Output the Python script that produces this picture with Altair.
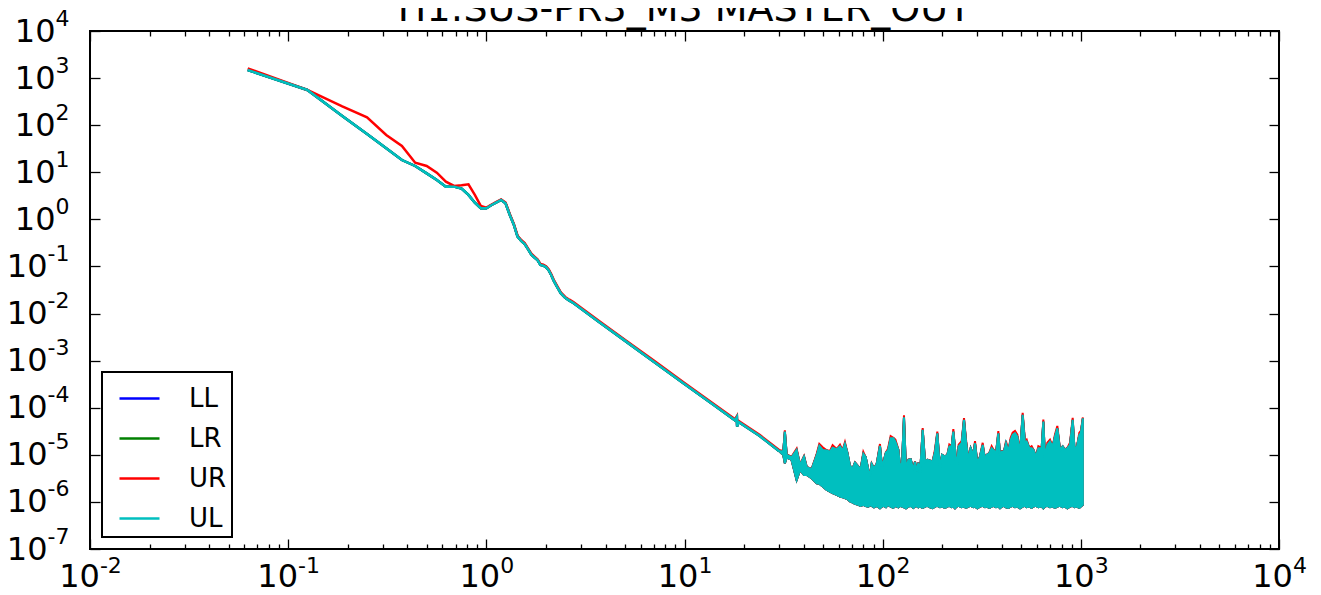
import altair as alt
import pandas as pd

TITLE = "H1:SUS-PR3_M3 MASTER_OUT"
series_names = ["LL", "LR", "UR", "UL"]
series_colors = ["#0000ff", "#008000", "#ff0000", "#00bfbf"]

# ---- smooth low-frequency part (Hz, magnitude) ----
freq_lf = [0.0625, 0.125, 0.1875, 0.25, 0.3125, 0.375, 0.4375, 0.5, 0.5625, 0.625,
           0.6875, 0.75, 0.8125, 0.875, 0.9375, 1.0, 1.0625, 1.125, 1.1875, 1.25,
           1.3125, 1.375, 1.4375, 1.5, 1.5625, 1.625, 1.6875, 1.75, 1.8125, 1.875,
           1.9375, 2.0, 2.0625, 2.125, 2.1875, 2.25, 2.375, 2.5, 2.625, 2.75,
           3.75, 5.0, 7.0, 10.0, 14.0, 18.0, 18.375, 18.4375, 18.75, 24.0,
           30.0]
ul_lf = [1486, 559, 157, 65.0, 32.3, 18.2, 13.6, 9.5, 6.86, 4.95,
         4.95, 4.49, 3.30, 2.26, 1.72, 1.72, 2.02, 2.30, 2.58, 2.20,
         1.25, 0.78, 0.43, 0.35, 0.30, 0.23, 0.178, 0.155, 0.136, 0.108,
         0.104, 0.097, 0.083, 0.066, 0.050, 0.040, 0.027, 0.0215, 0.0188, 0.0168,
         0.0064, 0.00266, 0.00095, 0.00032, 0.000116, 5.4e-5, 6.3e-5, 4.0e-5, 5.0e-5, 2.5e-5,
         1.2e-5]
ur_lf = [1612, 559, 251, 147, 61.9, 36.2, 16.0, 13.6, 9.82, 6.33,
         5.12, 5.29, 5.55, 3.30, 1.93, 1.77, 2.05, 2.35, 2.65, 2.28,
         1.30, 0.81, 0.45, 0.365, 0.315, 0.24, 0.186, 0.162, 0.142, 0.113,
         0.109, 0.101, 0.087, 0.069, 0.052, 0.042, 0.0283, 0.0225, 0.0197, 0.0176,
         0.0067, 0.00279, 0.001, 0.000336, 0.000122, 5.7e-5, 6.6e-5, 4.2e-5, 5.25e-5, 2.63e-5,
         1.26e-5]
# LL and LR lie exactly underneath UL in the reference
ll_lf = ul_lf
lr_lf = ul_lf

# ---- dense noisy high-frequency part: lower / upper envelope ----
band_freq = [30.0, 31.5, 32.1, 32.8, 34.7, 36.8, 38.3, 40.1, 41.4, 43.8,
             46.5, 47.9, 49.8, 52.2, 54.2, 55.9, 58.6, 60.9, 62.8, 64.5,
             66.3, 68.4, 70.6, 72.5, 75.4, 77.4, 79.9, 82.1, 84.7, 86.3,
             88.0, 90.4, 93.3, 96.9, 99.2, 101.6, 103.9, 106.4, 109.7, 113.2,
             115.9, 120.0, 122.3, 125.2, 128.1, 131.1, 134.8, 138.5, 142.8, 145.6,
             148.5, 151.4, 154.3, 159.2, 163.6, 168.1, 173.4, 178.8, 183.7, 188.7,
             194.7, 199.3, 206.3, 212.0, 217.0, 222.9, 227.3, 231.7, 236.3, 241.8,
             250.4, 257.3, 263.4, 270.6, 278.0, 286.8, 292.4, 300.5, 309.9, 319.7,
             328.5, 334.9, 345.4, 354.8, 361.8, 373.2, 383.4, 390.9, 400.1, 409.5,
             419.1, 430.6, 442.5, 452.9, 465.4, 478.2, 493.2, 508.7, 522.6, 532.9,
             549.6, 564.8, 575.9, 593.9, 610.3, 634.4, 646.8, 659.5, 677.6, 698.9,
             720.9, 740.7, 761.0, 785.0, 809.7, 832.0, 854.9, 881.9, 909.7, 927.5,
             952.8, 982.7, 1000.0, 1024.0]
ul_band_low = [1.2e-5, 9.95e-6, 6.62e-6, 8.87e-6, 7.79e-6, 2.93e-6, 4.78e-6, 3.74e-6, 3.74e-6, 3.18e-6,
               2.49e-6, 2.42e-6, 2.12e-6, 1.80e-6, 1.66e-6, 1.53e-6, 1.41e-6, 1.30e-6, 1.26e-6, 1.20e-6,
               1.15e-6, 1.02e-6, 9.7e-7, 9.07e-7, 8.64e-7, 8.2e-7, 8.64e-7, 8.2e-7, 7.96e-7, 8.5e-7,
               8.23e-7, 7.7e-7, 8.23e-7, 7.34e-7, 7.96e-7, 8.23e-7, 7.7e-7, 8.64e-7, 7.96e-7, 7.46e-7,
               8.23e-7, 7.7e-7, 8.23e-7, 7.96e-7, 7.7e-7, 7.34e-7, 7.96e-7, 8.23e-7, 7.46e-7, 7.96e-7,
               8.23e-7, 7.7e-7, 7.96e-7, 7.46e-7, 7.96e-7, 8.23e-7, 7.7e-7, 7.34e-7, 7.96e-7, 8.23e-7,
               7.7e-7, 7.96e-7, 7.46e-7, 7.96e-7, 8.23e-7, 7.7e-7, 7.96e-7, 7.34e-7, 7.96e-7, 8.23e-7,
               7.7e-7, 7.96e-7, 7.46e-7, 7.96e-7, 8.23e-7, 7.7e-7, 7.96e-7, 7.34e-7, 7.96e-7, 8.23e-7,
               7.7e-7, 7.96e-7, 7.46e-7, 7.96e-7, 8.23e-7, 7.7e-7, 7.96e-7, 7.34e-7, 7.96e-7, 8.23e-7,
               7.7e-7, 7.46e-7, 7.96e-7, 8.23e-7, 7.7e-7, 7.96e-7, 7.34e-7, 7.96e-7, 8.23e-7, 7.7e-7,
               7.96e-7, 7.46e-7, 7.96e-7, 8.23e-7, 7.7e-7, 7.96e-7, 7.34e-7, 7.96e-7, 8.23e-7, 7.7e-7,
               7.96e-7, 7.46e-7, 7.96e-7, 8.23e-7, 7.7e-7, 7.96e-7, 7.34e-7, 7.96e-7, 8.23e-7, 7.7e-7,
               7.96e-7, 7.46e-7, 7.96e-7, 8.64e-7]
ul_band_high = [1.2e-5, 1.17e-5, 3.11e-5, 9.95e-6, 8.87e-6, 1.27e-5, 6.10e-6, 9.17e-6, 5.44e-6, 4.94e-6,
                9.95e-6, 1.545e-5, 1.27e-5, 1.23e-5, 1.17e-5, 1.42e-5, 1.31e-5, 1.50e-5, 1.23e-5, 1.70e-5,
                1.115e-5, 5.81e-6, 5.18e-6, 6.84e-6, 5.63e-6, 4.94e-6, 1.045e-5, 8.87e-6, 4.78e-6, 3.45e-6,
                6.41e-6, 5.18e-6, 6.41e-6, 1.545e-5, 5.63e-6, 7.79e-6, 1.115e-5, 1.23e-5, 2.25e-5, 2.25e-5,
                1.91e-5, 1.27e-5, 5.63e-6, 6.62e-6, 6.27e-5, 4.78e-6, 7.79e-6, 8.04e-6, 4.78e-6, 7.18e-6,
                4.41e-6, 6.84e-6, 3.74e-6, 3.38e-5, 7.18e-6, 7.79e-6, 7.5e-6, 7.18e-6, 1.17e-5, 2.87e-5,
                4.78e-6, 9.95e-6, 9.17e-6, 9.95e-6, 1.50e-5, 1.50e-5, 3.11e-5, 1.38e-5, 4.78e-6, 1.50e-5,
                1.76e-5, 5.51e-5, 1.91e-5, 7.79e-6, 1.38e-5, 9.95e-6, 1.76e-5, 6.62e-6, 9.17e-6, 1.62e-5,
                7.79e-6, 9.95e-6, 1.08e-5, 1.38e-5, 1.27e-5, 1.08e-5, 2.87e-5, 9.95e-6, 1.17e-5, 1.17e-5,
                1.76e-5, 1.17e-5, 2.07e-5, 2.65e-5, 2.87e-5, 2.44e-5, 1.08e-5, 7.03e-5, 1.76e-5, 1.91e-5,
                1.38e-5, 1.38e-5, 1.27e-5, 9.17e-6, 1.38e-5, 1.38e-5, 5.08e-5, 8.45e-6, 1.62e-5, 1.91e-5,
                1.50e-5, 2.44e-5, 3.66e-5, 1.27e-5, 1.50e-5, 1.27e-5, 1.38e-5, 1.62e-5, 5.51e-5, 1.50e-5,
                1.38e-5, 2.65e-5, 2.87e-5, 5.97e-5]
ur_band_low = ul_band_low
ur_band_high = [1.26e-5, 1.2e-5, 3.3e-5, 1.02e-5, 9.1e-6, 1.35e-5, 6.2e-6, 9.4e-6, 5.5e-6, 5.0e-6,
                1.06e-5, 1.7e-5, 1.45e-5, 1.25e-5, 1.2e-5, 1.6e-5, 1.33e-5, 1.65e-5, 1.25e-5, 1.85e-5,
                1.13e-5, 5.9e-6, 5.2e-6, 6.9e-6, 5.7e-6, 5.0e-6, 1.15e-5, 8.9e-6, 4.8e-6, 3.5e-6,
                6.5e-6, 5.2e-6, 6.5e-6, 1.7e-5, 5.7e-6, 7.9e-6, 1.13e-5, 1.35e-5, 2.5e-5, 2.3e-5,
                2.1e-5, 1.3e-5, 5.7e-6, 6.7e-6, 6.9e-5, 4.8e-6, 7.9e-6, 8.1e-6, 4.8e-6, 7.3e-6,
                4.5e-6, 6.9e-6, 3.8e-6, 3.7e-5, 7.3e-6, 7.9e-6, 7.6e-6, 7.3e-6, 1.3e-5, 3.1e-5,
                4.8e-6, 1.0e-5, 9.3e-6, 1.0e-5, 1.65e-5, 1.52e-5, 3.5e-5, 1.4e-5, 4.8e-6, 1.65e-5,
                1.95e-5, 6.0e-5, 2.1e-5, 7.9e-6, 1.4e-5, 1.0e-5, 1.95e-5, 6.7e-6, 9.3e-6, 1.8e-5,
                7.9e-6, 1.0e-5, 1.1e-5, 1.52e-5, 1.3e-5, 1.1e-5, 3.2e-5, 1.0e-5, 1.2e-5, 1.2e-5,
                1.95e-5, 1.2e-5, 2.3e-5, 2.95e-5, 3.2e-5, 2.7e-5, 1.1e-5, 7.8e-5, 1.95e-5, 2.1e-5,
                1.4e-5, 1.52e-5, 1.3e-5, 9.3e-6, 1.52e-5, 1.4e-5, 5.6e-5, 8.6e-6, 1.8e-5, 2.1e-5,
                1.52e-5, 2.7e-5, 4.1e-5, 1.3e-5, 1.52e-5, 1.3e-5, 1.4e-5, 1.8e-5, 6.1e-5, 1.52e-5,
                1.4e-5, 2.95e-5, 3.2e-5, 6.2e-5]
ll_band_low, ll_band_high = ul_band_low, ul_band_high
lr_band_low, lr_band_high = ul_band_low, ul_band_high

assert len(freq_lf) == len(ul_lf) == len(ur_lf)
assert len(band_freq) == len(ul_band_low) == len(ul_band_high) == len(ur_band_high)

# ---- axis tick values ----
x_major = [1e-2, 1e-1, 1e0, 1e1, 1e2, 1e3, 1e4]
x_major_neg = [1e-2, 1e-1]                  # labels with negative exponent
x_major_pos = [1e0, 1e1, 1e2, 1e3, 1e4]
x_minor = [m * d for d in [1e-2, 1e-1, 1e0, 1e1, 1e2, 1e3] for m in range(2, 10)]
y_major = [1e-7, 1e-6, 1e-5, 1e-4, 1e-3, 1e-2, 1e-1, 1e0, 1e1, 1e2, 1e3, 1e4]
y_major_neg = [1e-7, 1e-6, 1e-5, 1e-4, 1e-3, 1e-2, 1e-1]
y_major_pos = [1e0, 1e1, 1e2, 1e3, 1e4]

# ---- tables ----
line_rows = []
for name, vals in zip(series_names, [ll_lf, lr_lf, ur_lf, ul_lf]):
    for f, v in zip(freq_lf, vals):
        line_rows.append({"series": name, "f": f, "v": v})
lines_df = pd.DataFrame(line_rows)

band_rows = []
for name, lo, hi in zip(series_names,
                        [ll_band_low, lr_band_low, ur_band_low, ul_band_low],
                        [ll_band_high, lr_band_high, ur_band_high, ul_band_high]):
    for f, a, b in zip(band_freq, lo, hi):
        band_rows.append({"series": name, "f": f, "lo": a, "hi": b})
band_df = pd.DataFrame(band_rows)

W, H = 1189, 518
FONT = "DejaVu Sans"
BASE_FS, EXP_FS = 32, 22
xscale = alt.Scale(type="log", domain=[1e-2, 1e4], nice=False)
yscale = alt.Scale(type="log", domain=[1e-7, 1e4], nice=False)
cscale = alt.Scale(domain=series_names, range=series_colors)

EXP = "round(log(datum.value)/LN10)"
EXP_EXPR = f"({EXP} < 0 ? '-' : '') + abs({EXP})"


def tick_axis(orient, values, tick_size, offset):
    return alt.Axis(orient=orient, values=values, domain=False, grid=False, title=None,
                    labels=False, ticks=True, tickSize=tick_size, tickColor="black",
                    tickWidth=1.3, offset=offset)


def label_axis(orient, values, text_expr, size, align, padding, baseline=None, loffset=0):
    kw = dict(orient=orient, values=values, domain=False, grid=False, title=None,
              ticks=False, labels=True, labelExpr=text_expr, labelFontSize=size,
              labelFont=FONT, labelColor="black", labelAlign=align, labelPadding=padding,
              labelOffset=loffset, labelFlush=False, labelOverlap=False, labelBound=False)
    if baseline:
        kw["labelBaseline"] = baseline
    return alt.Axis(**kw)


legend = alt.Legend(title=None, orient="bottom-left", offset=12, symbolType="stroke",
                    symbolSize=1600, symbolStrokeWidth=2.5, labelFontSize=26, labelFont=FONT,
                    labelColor="black", labelOffset=28, symbolOffset=11, fillColor="white",
                    strokeColor="black", padding=5, rowPadding=5)

layers = []
for name in series_names:
    layers.append(
        alt.Chart(lines_df).transform_filter(alt.datum.series == name).mark_line(strokeWidth=2.5).encode(
            x=alt.X("f:Q", scale=xscale, axis=None),
            y=alt.Y("v:Q", scale=yscale, axis=None),
            color=alt.Color("series:N", scale=cscale, legend=legend),
        )
    )
    layers.append(
        alt.Chart(band_df).transform_filter(alt.datum.series == name).mark_area(strokeWidth=2).encode(
            x=alt.X("f:Q", scale=xscale, axis=None),
            y=alt.Y("lo:Q", scale=yscale, axis=None),
            y2="hi:Q",
            color=alt.Color("series:N", scale=cscale, legend=None),
            stroke=alt.Stroke("series:N", scale=cscale, legend=None),
        )
    )

axis_specs = [
    # "10" bases
    (label_axis("bottom", x_major_neg, "'10'", BASE_FS, "right", 12, loffset=9.4),
     label_axis("left", y_major_neg, "'10'", BASE_FS, "right", 43, baseline="middle")),
    (label_axis("bottom", x_major_pos, "'10'", BASE_FS, "right", 12, loffset=13.4),
     label_axis("left", y_major_pos, "'10'", BASE_FS, "right", 35, baseline="middle")),
    # exponents
    (label_axis("bottom", x_major_neg, EXP_EXPR, EXP_FS, "left", 6, loffset=9.4),
     label_axis("left", y_major, EXP_EXPR, EXP_FS, "right", 21, baseline="middle", loffset=-13)),
    (label_axis("bottom", x_major_pos, EXP_EXPR, EXP_FS, "left", 6, loffset=13.4), None),
    # inward ticks on all four sides
    (tick_axis("top", x_major, 10, -H), tick_axis("right", y_major, 10, -W)),
    (tick_axis("bottom", x_major, 10, -H), tick_axis("left", y_major, 10, -W)),
    (tick_axis("top", x_minor, 5, -H), None),
    (tick_axis("bottom", x_minor, 5, -H), None),
]
for xa, ya in axis_specs:
    layers.append(
        alt.Chart(lines_df).mark_point(opacity=0, size=1).encode(
            x=alt.X("f:Q", scale=xscale, axis=xa),
            y=alt.Y("v:Q", scale=yscale, axis=ya),
        )
    )

chart = (
    alt.layer(*layers)
    .resolve_axis(x="independent", y="independent")
    .properties(
        width=W, height=H,
        title=alt.TitleParams(text=TITLE, fontSize=38, font=FONT, fontWeight="normal",
                              color="black", anchor="middle", offset=-22),
        autosize=alt.AutoSizeParams(type="none"),
        padding={"left": 82, "top": 23, "right": 30, "bottom": 46},
        background="white",
    )
    .configure_view(stroke="black", strokeWidth=2)
    .configure_legend(strokeColor="black", strokeWidth=2, cornerRadius=0)
)

chart.save("out.html", embed_options={"renderer": "svg", "actions": False})
